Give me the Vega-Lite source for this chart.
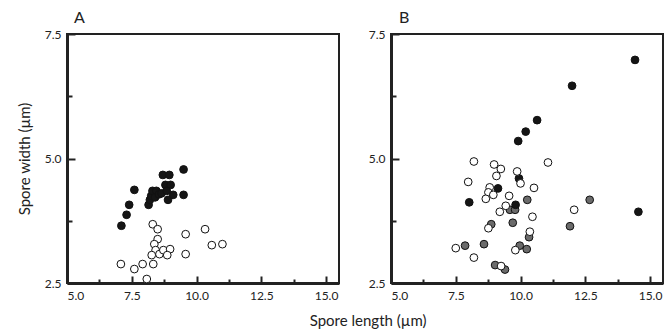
{
  "$schema": "https://vega.github.io/schema/vega-lite/v6.json",
  "padding": {"left": 16, "top": 9, "right": 4, "bottom": 0},
  "config": {
    "font": "Lato",
    "view": {"stroke": "#222", "strokeWidth": 2},
    "concat": {"spacing": 27},
    "axis": {
      "domainColor": "#222",
      "domainWidth": 3,
      "tickColor": "#222",
      "tickWidth": 2,
      "grid": false,
      "labelFont": "Lato",
      "labelFontSize": 12,
      "labelColor": "#222",
      "titleFont": "Lato",
      "titleFontSize": 15,
      "titleFontWeight": "normal",
      "titleColor": "#222"
    }
  },
  "title": {"text": "Spore length (µm)", "orient": "bottom", "anchor": "middle", "fontSize": 15, "fontWeight": "normal", "font": "Lato", "color": "#222", "dx": 28, "offset": 12},
  "data": {"values": [
    {"p":"A","t":"black","x":7.1,"y":3.65},{"p":"A","t":"black","x":7.3,"y":3.87},{"p":"A","t":"black","x":7.4,"y":4.07},{"p":"A","t":"black","x":7.6,"y":4.37},{"p":"A","t":"black","x":8.15,"y":4.07},{"p":"A","t":"black","x":8.2,"y":4.17},{"p":"A","t":"black","x":8.25,"y":4.25},{"p":"A","t":"black","x":8.3,"y":4.35},{"p":"A","t":"black","x":8.45,"y":4.35},{"p":"A","t":"black","x":8.4,"y":4.22},{"p":"A","t":"black","x":8.55,"y":4.28},{"p":"A","t":"black","x":8.7,"y":4.67},{"p":"A","t":"black","x":8.95,"y":4.67},{"p":"A","t":"black","x":8.8,"y":4.47},{"p":"A","t":"black","x":9.0,"y":4.47},{"p":"A","t":"black","x":8.65,"y":4.3},{"p":"A","t":"black","x":8.9,"y":4.17},{"p":"A","t":"black","x":9.1,"y":4.27},{"p":"A","t":"black","x":9.5,"y":4.78},{"p":"A","t":"black","x":9.5,"y":4.27},{"p":"A","t":"black","x":8.85,"y":4.35},
    {"p":"A","t":"open","x":7.08,"y":2.88},{"p":"A","t":"open","x":7.6,"y":2.78},{"p":"A","t":"open","x":7.92,"y":2.88},{"p":"A","t":"open","x":8.08,"y":2.58},{"p":"A","t":"open","x":8.33,"y":2.88},{"p":"A","t":"open","x":8.31,"y":3.68},{"p":"A","t":"open","x":8.5,"y":3.58},{"p":"A","t":"open","x":8.5,"y":3.38},{"p":"A","t":"open","x":8.37,"y":3.28},{"p":"A","t":"open","x":8.42,"y":3.16},{"p":"A","t":"open","x":8.27,"y":3.06},{"p":"A","t":"open","x":8.57,"y":3.08},{"p":"A","t":"open","x":8.72,"y":3.16},{"p":"A","t":"open","x":8.98,"y":3.18},{"p":"A","t":"open","x":8.87,"y":3.06},{"p":"A","t":"open","x":9.58,"y":3.48},{"p":"A","t":"open","x":9.58,"y":3.08},{"p":"A","t":"open","x":10.33,"y":3.58},{"p":"A","t":"open","x":10.59,"y":3.26},{"p":"A","t":"open","x":11.0,"y":3.28},
    {"p":"B","t":"gray","x":10.26,"y":4.17},{"p":"B","t":"gray","x":12.67,"y":4.17},{"p":"B","t":"gray","x":9.59,"y":3.97},{"p":"B","t":"gray","x":9.79,"y":3.97},{"p":"B","t":"gray","x":8.87,"y":3.68},{"p":"B","t":"gray","x":9.7,"y":3.71},{"p":"B","t":"gray","x":11.91,"y":3.64},{"p":"B","t":"gray","x":10.33,"y":3.42},{"p":"B","t":"gray","x":7.86,"y":3.25},{"p":"B","t":"gray","x":8.59,"y":3.28},{"p":"B","t":"gray","x":9.97,"y":3.25},{"p":"B","t":"gray","x":10.24,"y":3.18},{"p":"B","t":"gray","x":9.02,"y":2.86},{"p":"B","t":"gray","x":9.4,"y":2.77},
    {"p":"B","t":"black","x":14.42,"y":6.98},{"p":"B","t":"black","x":11.99,"y":6.46},{"p":"B","t":"black","x":10.64,"y":5.77},{"p":"B","t":"black","x":10.2,"y":5.54},{"p":"B","t":"black","x":9.91,"y":5.35},{"p":"B","t":"black","x":9.94,"y":4.6},{"p":"B","t":"black","x":9.13,"y":4.4},{"p":"B","t":"black","x":8.02,"y":4.12},{"p":"B","t":"black","x":9.81,"y":4.07},{"p":"B","t":"black","x":14.55,"y":3.93},
    {"p":"B","t":"open","x":8.2,"y":4.94},{"p":"B","t":"open","x":8.98,"y":4.88},{"p":"B","t":"open","x":9.24,"y":4.79},{"p":"B","t":"open","x":9.07,"y":4.65},{"p":"B","t":"open","x":9.87,"y":4.74},{"p":"B","t":"open","x":10.0,"y":4.5},{"p":"B","t":"open","x":7.98,"y":4.53},{"p":"B","t":"open","x":8.81,"y":4.42},{"p":"B","t":"open","x":8.76,"y":4.32},{"p":"B","t":"open","x":8.95,"y":4.27},{"p":"B","t":"open","x":8.66,"y":4.19},{"p":"B","t":"open","x":9.56,"y":4.25},{"p":"B","t":"open","x":10.52,"y":4.41},{"p":"B","t":"open","x":11.06,"y":4.92},{"p":"B","t":"open","x":9.43,"y":4.05},{"p":"B","t":"open","x":9.2,"y":3.93},{"p":"B","t":"open","x":12.07,"y":3.97},{"p":"B","t":"open","x":10.46,"y":3.83},{"p":"B","t":"open","x":8.76,"y":3.6},{"p":"B","t":"open","x":10.36,"y":3.53},{"p":"B","t":"open","x":7.5,"y":3.2},{"p":"B","t":"open","x":8.2,"y":3.01},{"p":"B","t":"open","x":9.8,"y":3.16},{"p":"B","t":"open","x":9.25,"y":2.84}
  ]},
  "hconcat": [
    {
      "width": 272, "height": 249,
      "title": {"text": "A", "anchor": "start", "frame": "group", "fontSize": 16, "fontWeight": "normal", "font": "Lato", "color": "#222", "dx": 7, "offset": 2},
      "transform": [{"filter": "datum.p === 'A'"}],
      "mark": {"type": "point", "shape": "circle", "filled": true, "size": 60, "stroke": "#111", "strokeWidth": 1, "opacity": 1},
      "encoding": {
        "x": {"field": "x", "type": "quantitative", "scale": {"domain": [5, 15.5], "nice": false, "zero": false},
              "axis": {"title": null, "values": [5, 6.25, 7.5, 8.75, 10, 11.25, 12.5, 13.75, 15], "labelExpr": "datum.value % 2.5 === 0 ? format(datum.value, '.1f') : ''", "tickSize": {"condition": {"test": "datum.value % 2.5 === 0", "value": -7}, "value": -4}, "labelPadding": 14}},
        "y": {"field": "y", "type": "quantitative", "scale": {"domain": [2.5, 7.5], "nice": false, "zero": false},
              "axis": {"title": "Spore width (µm)", "values": [2.5, 3.75, 5, 6.25, 7.5], "labelExpr": "datum.value % 2.5 === 0 ? format(datum.value, '.1f') : ''", "tickSize": {"condition": {"test": "datum.value % 2.5 === 0", "value": -8}, "value": -5}, "labelPadding": 14, "titlePadding": 12}},
        "fill": {"field": "t", "type": "nominal", "scale": {"domain": ["gray", "black", "open"], "range": ["#6b6b6b", "#151515", "#ffffff"]}, "legend": null}
      }
    },
    {
      "width": 272, "height": 249,
      "title": {"text": "B", "anchor": "start", "frame": "group", "fontSize": 16, "fontWeight": "normal", "font": "Lato", "color": "#222", "dx": 8, "offset": 2},
      "transform": [{"filter": "datum.p === 'B'"}],
      "mark": {"type": "point", "shape": "circle", "filled": true, "size": 60, "stroke": "#111", "strokeWidth": 1, "opacity": 1},
      "encoding": {
        "x": {"field": "x", "type": "quantitative", "scale": {"domain": [5, 15.5], "nice": false, "zero": false},
              "axis": {"title": null, "values": [5, 6.25, 7.5, 8.75, 10, 11.25, 12.5, 13.75, 15], "labelExpr": "datum.value % 2.5 === 0 ? format(datum.value, '.1f') : ''", "tickSize": {"condition": {"test": "datum.value % 2.5 === 0", "value": -7}, "value": -4}, "labelPadding": 14}},
        "y": {"field": "y", "type": "quantitative", "scale": {"domain": [2.5, 7.5], "nice": false, "zero": false},
              "axis": {"title": null, "values": [2.5, 3.75, 5, 6.25, 7.5], "labelExpr": "datum.value % 2.5 === 0 ? format(datum.value, '.1f') : ''", "tickSize": {"condition": {"test": "datum.value % 2.5 === 0", "value": -8}, "value": -5}, "labelPadding": 14}},
        "fill": {"field": "t", "type": "nominal", "scale": {"domain": ["gray", "black", "open"], "range": ["#6b6b6b", "#151515", "#ffffff"]}, "legend": null}
      }
    }
  ]
}
